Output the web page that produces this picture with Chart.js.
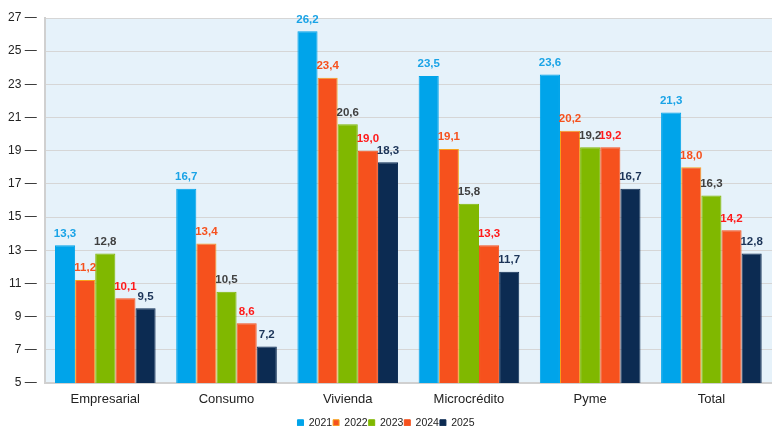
<!DOCTYPE html>
<html>
<head>
<meta charset="utf-8">
<script src="https://cdn.jsdelivr.net/npm/chart.js@4/dist/chart.umd.min.js"></script>
<style>
  html, body { margin: 0; padding: 0; background: #fff; }
  #wrap { width: 772px; height: 426px; }
</style>
</head>
<body>
<div id="wrap"><canvas id="c" width="772" height="426"></canvas></div>
<script>
const categories = ['Empresarial', 'Consumo', 'Vivienda', 'Microcrédito', 'Pyme', 'Total'];
const years = ['2021', '2022', '2023', '2024', '2025'];
const v2021 = [13.3, 16.7, 26.2, 23.5, 23.6, 21.3];
const v2022 = [11.2, 13.4, 23.4, 19.1, 20.2, 18.0];
const v2023 = [12.8, 10.5, 20.6, 15.8, 19.2, 16.3];
const v2024 = [10.1, 8.6, 19.0, 13.3, 19.2, 14.2];
const v2025 = [9.5, 7.2, 18.3, 11.7, 16.7, 12.8];
const yTicks = [5, 7, 9, 11, 13, 15, 17, 19, 21, 23, 25, 27];

const fills = ['#00a4ea', '#f6511d', '#80b800', '#f6511d', '#0c2b52'];
const borders = ['#00a4ea', '#f7a21b', '#80b800', '#f6511d', '#0c2b52'];
const labelColors = ['#19a3e6', '#f6511d', '#404040', '#ff1a1a', '#1c3458'];
const series = [v2021, v2022, v2023, v2024, v2025];

// light blue fill behind the plotting area
const plotBg = {
  id: 'plotBg',
  beforeDraw(chart) {
    const { ctx, chartArea: a } = chart;
    ctx.save();
    ctx.fillStyle = '#e6f2fa';
    ctx.fillRect(a.left, a.top, a.right - a.left, a.bottom - a.top);
    ctx.restore();
  }
};

// keep the legend tight against the bottom edge
const tightLegend = {
  id: 'tightLegend',
  beforeInit(chart) {
    const legend = chart.legend;
    const fit = legend.fit;
    legend.fit = function () {
      fit.call(this);
      this.height -= 12;
    };
  }
};

// value written above every bar
const valueLabels = {
  id: 'valueLabels',
  afterDatasetsDraw(chart) {
    const { ctx } = chart;
    ctx.save();
    ctx.font = 'bold 11.5px "Liberation Sans", Arial, sans-serif';
    ctx.textAlign = 'center';
    ctx.textBaseline = 'bottom';
    chart.data.datasets.forEach((ds, i) => {
      const meta = chart.getDatasetMeta(i);
      ctx.fillStyle = labelColors[i];
      meta.data.forEach((bar, j) => {
        const txt = ds.data[j].toFixed(1).replace('.', ',');
        ctx.fillText(txt, bar.x, bar.y - 6);
      });
    });
    ctx.restore();
  }
};

new Chart(document.getElementById('c'), {
  type: 'bar',
  data: {
    labels: categories,
    datasets: years.map((y, i) => ({
      label: y,
      data: series[i],
      backgroundColor: fills[i],
      borderColor: borders[i],
      borderWidth: 1,
      categoryPercentage: 0.83,
      barPercentage: 1.0
    }))
  },
  options: {
    responsive: false,
    animation: false,
    layout: { padding: { top: 18, right: 0, left: 0, bottom: 0 } },
    plugins: {
      legend: {
        position: 'bottom',
        labels: {
          boxWidth: 6,
          boxHeight: 6,
          padding: 1,
          color: '#222',
          font: { family: '"Liberation Sans", Arial, sans-serif', size: 10.5 }
        }
      },
      tooltip: { enabled: false }
    },
    scales: {
      x: {
        grid: { display: false, drawTicks: false },
        border: { color: '#d0d0d0', width: 2 },
        ticks: {
          color: '#222',
          padding: 9,
          font: { family: '"Liberation Sans", Arial, sans-serif', size: 13 }
        }
      },
      y: {
        min: 5,
        max: 27,
        afterBuildTicks(axis) { axis.ticks = yTicks.map(v => ({ value: v })); },
        grid: { color: '#d6d6d6', drawTicks: false },
        border: { color: '#d0d0d0', width: 2 },
        ticks: {
          color: '#222',
          padding: 8,
          font: { family: '"Liberation Sans", Arial, sans-serif', size: 12 },
          callback: v => v + ' \u2014'
        }
      }
    }
  },
  plugins: [plotBg, tightLegend, valueLabels]
});
</script>
</body>
</html>
